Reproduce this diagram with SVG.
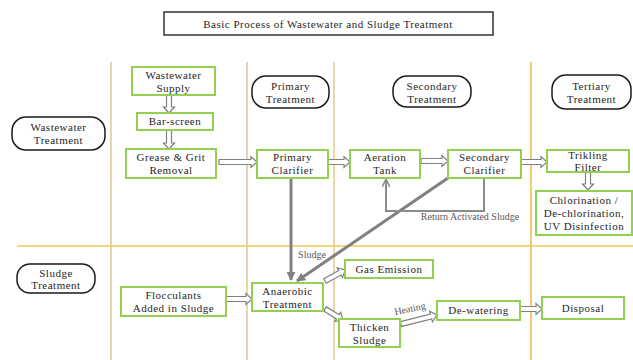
<svg xmlns="http://www.w3.org/2000/svg" width="633" height="360" viewBox="0 0 633 360">
<style>
.box{fill:#fff;stroke:#92D050;stroke-width:2}
.oval{fill:#fff;stroke:#1a1a1a;stroke-width:1.5}
.t{font-family:"Liberation Serif","Times New Roman",serif;font-size:11px;fill:#262626;text-anchor:middle;letter-spacing:0.5px}
.s{font-family:"Liberation Serif","Times New Roman",serif;font-size:10px;fill:#595959;text-anchor:middle}
.ba{fill:#fff;stroke:#808080;stroke-width:1.2}
.g{fill:none;stroke:#808080;stroke-width:3}
.r{fill:none;stroke:#8c8c8c;stroke-width:2}
.lane{stroke:#E3C68E;stroke-width:1.5}
</style>
<defs>
<marker id="ah" viewBox="0 0 10 10" refX="9" refY="5" markerWidth="3" markerHeight="3" orient="auto" markerUnits="strokeWidth"><path d="M0,0 L10,5 L0,10 Z" fill="#808080"/></marker>
<marker id="ah2" viewBox="0 0 10 10" refX="9" refY="5" markerWidth="4" markerHeight="4" orient="auto" markerUnits="strokeWidth"><path d="M0,0 L10,5 L0,10" fill="none" stroke="#8c8c8c" stroke-width="2"/></marker>
</defs>
<g id="lanes">
<line class="lane" x1="111" y1="62" x2="111" y2="360"/>
<line class="lane" x1="247" y1="62" x2="247" y2="360"/>
<line class="lane" x1="334" y1="62" x2="334" y2="360"/>
<line x1="531" y1="62" x2="531" y2="360" stroke="#F2B940" stroke-width="1.5"/>
<line x1="17" y1="246" x2="633" y2="246" stroke="#F5C85A" stroke-width="1.5"/>
</g>
<g id="title">
<rect x="164" y="12" width="329" height="23" fill="#fff" stroke="#333" stroke-width="1.5"/>
<text class="t" x="328" y="27.5">Basic Process of Wastewater and Sludge Treatment</text>
</g>
<g id="connectors">
<path class="g" d="M291,178 V280" marker-end="url(#ah)"/>
<path class="g" d="M448,178 L297,281" marker-end="url(#ah)"/>
<path class="r" d="M484,178 V211 H386 V180" marker-end="url(#ah2)"/>
<text class="s" x="470" y="220">Return Activated Sludge</text>
<text class="s" x="312" y="258">Sludge</text>
<text class="s" x="410" y="312" transform="rotate(-12 410 309)" font-size="9">Heating</text>
<path class="ba" transform="translate(169,95) rotate(90)" d="M0,-2.5 H12 V-5.5 L18,0 L12,5.5 V2.5 H0 Z"/>
<path class="ba" transform="translate(169,130) rotate(90)" d="M0,-2.5 H13 V-5.5 L19,0 L13,5.5 V2.5 H0 Z"/>
<path class="ba" transform="translate(219,162)" d="M0,-2.5 H32 V-5.5 L38,0 L32,5.5 V2.5 H0 Z"/>
<path class="ba" transform="translate(328,162)" d="M0,-2.5 H16 V-5.5 L22,0 L16,5.5 V2.5 H0 Z"/>
<path class="ba" transform="translate(421,161)" d="M0,-2.5 H21 V-5.5 L27,0 L21,5.5 V2.5 H0 Z"/>
<path class="ba" transform="translate(521,162)" d="M0,-2.5 H20 V-5.5 L26,0 L20,5.5 V2.5 H0 Z"/>
<path class="ba" transform="translate(588,172) rotate(90)" d="M0,-2.5 H12 V-5.5 L18,0 L12,5.5 V2.5 H0 Z"/>
<path class="ba" transform="translate(226,299)" d="M0,-2.5 H20 V-5.5 L26,0 L20,5.5 V2.5 H0 Z"/>
<path class="ba" transform="translate(325,281) rotate(-28.8)" d="M0,-2.5 H17 V-5.5 L23,0 L17,5.5 V2.5 H0 Z"/>
<path class="ba" transform="translate(325,309) rotate(31.4)" d="M0,-2.5 H15 V-5.5 L21,0 L15,5.5 V2.5 H0 Z"/>
<path class="ba" transform="translate(401,324) rotate(-14)" d="M0,-2.5 H31 V-5.5 L37,0 L31,5.5 V2.5 H0 Z"/>
<path class="ba" transform="translate(520,309)" d="M0,-2.5 H16 V-5.5 L22,0 L16,5.5 V2.5 H0 Z"/>
</g>
<g id="ww-treatment"><rect class="oval" x="12" y="117" width="93" height="33" rx="14"/><text class="t" x="58.5" y="131">Wastewater</text><text class="t" x="58.5" y="144">Treatment</text></g>
<g id="sludge-treatment"><rect class="oval" x="17" y="264" width="78" height="29" rx="13"/><text class="t" x="56" y="276.5">Sludge</text><text class="t" x="56" y="289">Treatment</text></g>
<g id="primary-treatment"><rect class="oval" x="252" y="76" width="77" height="32" rx="14"/><text class="t" x="290.5" y="90">Primary</text><text class="t" x="290.5" y="103">Treatment</text></g>
<g id="secondary-treatment"><rect class="oval" x="393" y="76" width="78" height="31" rx="14"/><text class="t" x="432" y="90">Secondary</text><text class="t" x="432" y="103">Treatment</text></g>
<g id="tertiary-treatment"><rect class="oval" x="552" y="75" width="79" height="34" rx="14"/><text class="t" x="591.5" y="90">Tertiary</text><text class="t" x="591.5" y="103">Treatment</text></g>
<g id="wastewater-supply"><rect class="box" x="132" y="67" width="83" height="28"/><text class="t" x="173.5" y="79">Wastewater</text><text class="t" x="173.5" y="92">Supply</text></g>
<g id="bar-screen"><rect class="box" x="137" y="113" width="76" height="17"/><text class="t" x="175" y="125">Bar-screen</text></g>
<g id="grease-grit"><rect class="box" x="126" y="149" width="90" height="29"/><text class="t" x="171" y="161">Grease &amp; Grit</text><text class="t" x="171" y="174">Removal</text></g>
<g id="primary-clarifier"><rect class="box" x="257" y="150" width="71" height="28"/><text class="t" x="292.5" y="161">Primary</text><text class="t" x="292.5" y="174">Clarifier</text></g>
<g id="aeration-tank"><rect class="box" x="350" y="150" width="70" height="28"/><text class="t" x="385" y="161">Aeration</text><text class="t" x="385" y="174">Tank</text></g>
<g id="secondary-clarifier"><rect class="box" x="448" y="150" width="73" height="28"/><text class="t" x="484.5" y="161">Secondary</text><text class="t" x="484.5" y="174">Clarifier</text></g>
<g id="trikling-filter"><rect class="box" x="547" y="150" width="82" height="22"/><text class="t" x="588" y="158.5">Trikling</text><text class="t" x="588" y="171">Filter</text></g>
<g id="chlorination"><rect class="box" x="536" y="191" width="96" height="44"/><text class="t" x="584" y="204">Chlorination /</text><text class="t" x="584" y="217">De-chlorination,</text><text class="t" x="584" y="230">UV Disinfection</text></g>
<g id="flocculants"><rect class="box" x="121" y="287" width="105" height="29"/><text class="t" x="173.5" y="299">Flocculants</text><text class="t" x="173.5" y="312">Added in Sludge</text></g>
<g id="anaerobic"><rect class="box" x="252" y="283" width="71" height="28"/><text class="t" x="287.5" y="295">Anaerobic</text><text class="t" x="287.5" y="307.5">Treatment</text></g>
<g id="gas-emission"><rect class="box" x="345" y="260" width="88" height="18"/><text class="t" x="389" y="273">Gas Emission</text></g>
<g id="thicken-sludge"><rect class="box" x="339" y="319" width="61" height="28"/><text class="t" x="369.5" y="331">Thicken</text><text class="t" x="369.5" y="344">Sludge</text></g>
<g id="de-watering"><rect class="box" x="437" y="301" width="83" height="19"/><text class="t" x="478.5" y="314">De-watering</text></g>
<g id="disposal"><rect class="box" x="542" y="297" width="82" height="22"/><text class="t" x="583" y="312">Disposal</text></g>
</svg>
